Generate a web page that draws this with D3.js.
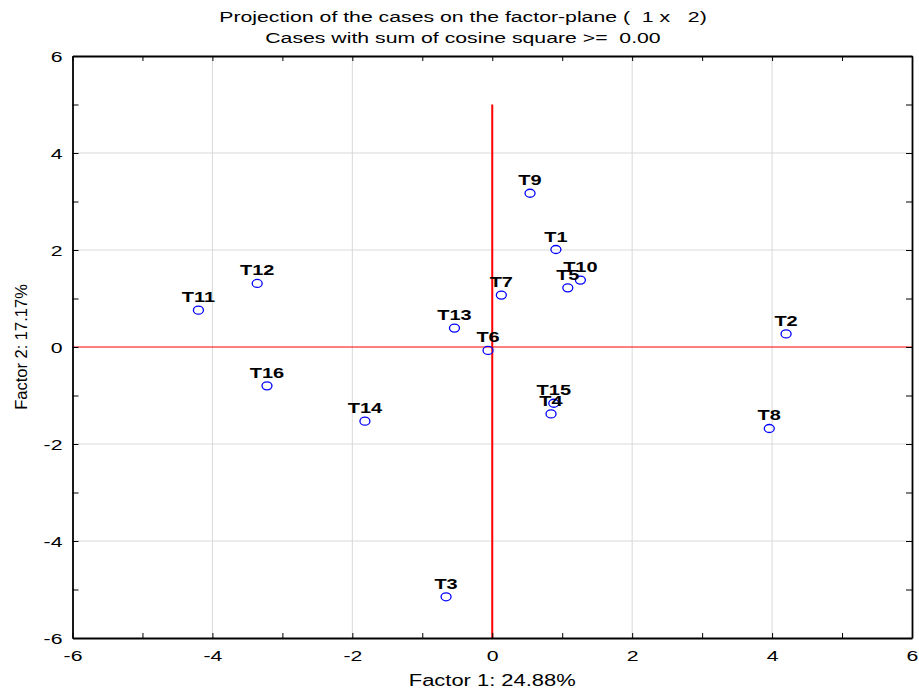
<!DOCTYPE html>
<html>
<head>
<meta charset="utf-8">
<script src="https://cdn.jsdelivr.net/npm/d3@7/dist/d3.min.js"></script>
<style>
  html, body { margin: 0; padding: 0; background: #fff; }
  svg { display: block; }
</style>
</head>
<body>
<div id="chart"></div>
<script>
// Case coordinates on factor 1 / factor 2
const caseNames = ["T1","T2","T3","T4","T5","T6","T7","T8","T9","T10","T11","T12","T13","T14","T15","T16"];
const factor1   = [0.91, 4.20, -0.66, 0.84, 1.08, -0.06, 0.13, 3.96, 0.54, 1.26, -4.20, -3.36, -0.54, -1.82, 0.88, -3.22];
const factor2   = [2.01, 0.27, -5.15, -1.38, 1.22, -0.07, 1.07, -1.68, 3.17, 1.38, 0.76, 1.31, 0.39, -1.53, -1.16, -0.80];

const majorTicks = [-6, -4, -2, 0, 2, 4, 6];
const minorTicks = d3.range(-6, 7, 1);
const gridTicks  = [-4, -2, 2, 4];

const titleLines = ["Projection of the cases on the factor-plane (  1 x   2)",
                    "Cases with sum of cosine square >=  0.00"];
const xTitle = "Factor 1: 24.88%";
const yTitle = "Factor 2: 17.17%";

const W = 919, H = 695;
const m = { left: 72.5, right: 7, top: 56, bottom: 57 };
const FONT = "'Liberation Sans', Arial, sans-serif";
const WIDEN = 1.37;   // horizontal widening of the lettering

const svg = d3.select("#chart").append("svg")
  .attr("width", W).attr("height", H);

// Widen each text horizontally, keeping its anchor in place
function widen(sel, k) {
  sel.each(function () {
    const len = this.getComputedTextLength();
    if (len > 0) {
      d3.select(this)
        .attr("textLength", len * k)
        .attr("lengthAdjust", "spacingAndGlyphs");
    }
  });
}

const x = d3.scaleLinear().domain([-6, 6]).range([m.left, W - m.right]);
const y = d3.scaleLinear().domain([-6, 6]).range([H - m.bottom, m.top]);

// Grid lines
const grid = svg.append("g").attr("stroke", "#d9d9d9").attr("stroke-width", 1);
grid.selectAll(".gx").data(gridTicks).join("line")
  .attr("x1", d => x(d)).attr("x2", d => x(d))
  .attr("y1", y(6)).attr("y2", y(-6));
grid.selectAll(".gy").data(gridTicks).join("line")
  .attr("y1", d => y(d)).attr("y2", d => y(d))
  .attr("x1", x(-6)).attr("x2", x(6));

// Reference lines through the origin
svg.append("line")
  .attr("x1", x(-6)).attr("x2", x(6))
  .attr("y1", y(0)).attr("y2", y(0))
  .attr("stroke", "#ff0000").attr("stroke-width", 1.2);
svg.append("line")
  .attr("x1", x(0)).attr("x2", x(0))
  .attr("y1", y(-6)).attr("y2", y(5))
  .attr("stroke", "#ff0000").attr("stroke-width", 2);

// Axes: inward ticks on all four sides, labels on bottom and left
const tickFmt = d => majorTicks.includes(d) ? String(d) : "";
const axB = svg.append("g").attr("transform", `translate(0,${y(-6)})`)
  .call(d3.axisBottom(x).tickValues(minorTicks).tickSizeInner(-5).tickSizeOuter(0).tickPadding(12).tickFormat(tickFmt));
const axT = svg.append("g").attr("transform", `translate(0,${y(6)})`)
  .call(d3.axisTop(x).tickValues(minorTicks).tickSizeInner(-5).tickSizeOuter(0).tickFormat(""));
const axL = svg.append("g").attr("transform", `translate(${x(-6)},0)`)
  .call(d3.axisLeft(y).tickValues(minorTicks).tickSizeInner(-6).tickSizeOuter(0).tickPadding(10).tickFormat(tickFmt));
const axR = svg.append("g").attr("transform", `translate(${x(6)},0)`)
  .call(d3.axisRight(y).tickValues(minorTicks).tickSizeInner(-6).tickSizeOuter(0).tickFormat(""));

[axB, axT, axL, axR].forEach(a => {
  a.select(".domain").attr("stroke", "#000").attr("stroke-width", 1.8);
  a.selectAll(".tick line").attr("stroke", "#000").attr("stroke-width", 1);
  a.selectAll(".tick text")
    .attr("font-family", FONT)
    .attr("font-size", 15.5).attr("fill", "#000");
});
axB.selectAll(".tick text").attr("dy", "0.71em");
axL.selectAll(".tick text").attr("dy", "0.36em");
widen(axB.selectAll(".tick text"), WIDEN);
widen(axL.selectAll(".tick text"), WIDEN);

// Titles
const titles = svg.append("g").selectAll("text").data(titleLines).join("text")
  .attr("x", 463).attr("y", (d, i) => 22 + i * 21)
  .attr("text-anchor", "middle")
  .attr("font-family", FONT)
  .attr("font-size", 15.5)
  .style("white-space", "pre")
  .text(d => d);
widen(titles, WIDEN);

const xt = svg.append("text")
  .attr("x", x(0)).attr("y", 686)
  .attr("text-anchor", "middle")
  .attr("font-family", FONT)
  .attr("font-size", 16)
  .text(xTitle);
widen(xt, WIDEN);

svg.append("text")
  .attr("transform", `translate(27,${y(0)}) rotate(-90)`)
  .attr("text-anchor", "middle")
  .attr("font-family", FONT)
  .attr("font-size", 16.5)
  .text(yTitle);

// Cases
const cases = caseNames.map((n, i) => ({ name: n, f1: factor1[i], f2: factor2[i] }));

const pts = svg.append("g");
pts.selectAll("ellipse").data(cases).join("ellipse")
  .attr("cx", d => x(d.f1)).attr("cy", d => y(d.f2))
  .attr("rx", 5).attr("ry", 4)
  .attr("fill", "none").attr("stroke", "#0000ff").attr("stroke-width", 1.3);

const labels = pts.selectAll("text").data(cases).join("text")
  .attr("x", d => x(d.f1)).attr("y", d => y(d.f2) - 8)
  .attr("text-anchor", "middle")
  .attr("font-family", FONT)
  .attr("font-weight", "bold")
  .attr("font-size", 15)
  .attr("fill", "#000")
  .text(d => d.name);
widen(labels, 1.33);
</script>
</body>
</html>
